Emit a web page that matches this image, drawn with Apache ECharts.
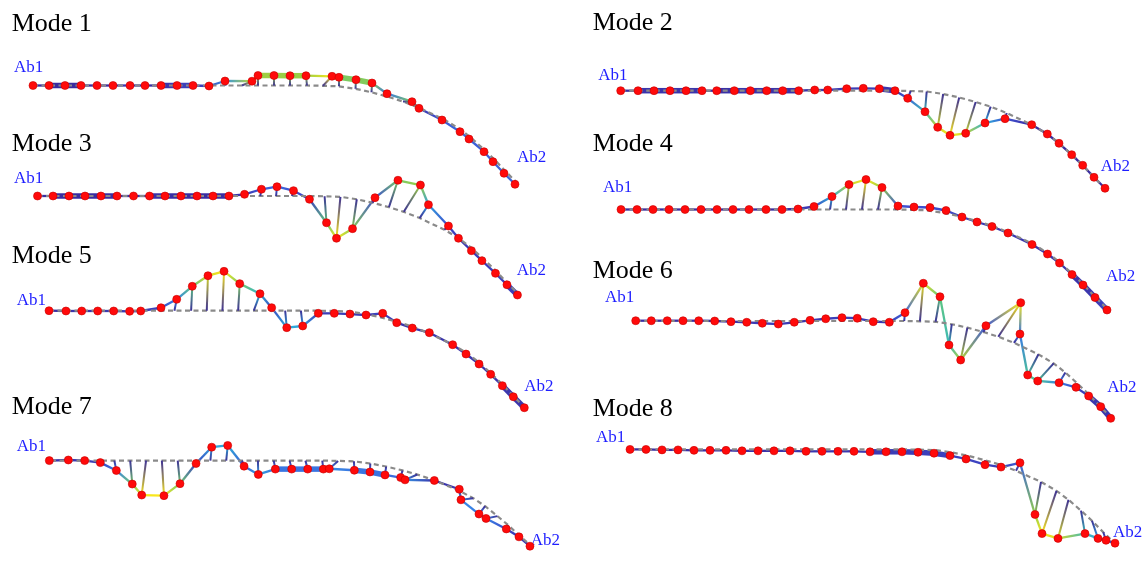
<!DOCTYPE html>
<html><head><meta charset="utf-8">
<script src="https://cdn.jsdelivr.net/npm/echarts@6/dist/echarts.min.js"></script>
<style>html,body{margin:0;padding:0;background:#fff}#c{width:1145px;height:569px}</style>
</head><body><div id="c"></div>
<script>
// Reference (undeformed) chain, shared by all panels: [u, v] (v positive = down)
const refChain = [[0,0],[16,0],[32,0],[48,0],[64,0],[80,0],[96,0],[112,0],[128,0],[145,0],[161,0],[177,0],[193,0],[209,0],[225,0],[241,0],[257,0],[274,0],
 [290,0.3],[306,0.8],[322.5,3.3],[338.5,6.8],[355,11.3],[370,16],[386,22.3],[411,34],[426.5,43.3],[438.5,52.6],[451,64],[462,74.6],[473.3,86.6],[484.3,97.6]];

// Displaced residue positions per mode
const mode1 = [[0,0],[16,0],[32,0],[48,0],[64,0],[80,0],[97,0],[112,0],[128,0],[144,0],[160,0],[176,0.5],[192,-4.5],[219,-4.3],[225,-10],[241,-10],[257,-9.8],[273,-9.8],[299,-9.2],[306,-8.2],[323,-5.8],[339,-2.5],[354,8.2],[379,16.2],[386,22.8],[409,34.5],[427,46.2],[436,53.5],[451,66.2],[460,76.2],[471,87.8],[482,98.8]];
const mode2 = [[0,0],[17.3,0],[33.3,0],[49.3,0],[65.3,0],[81.3,0],[96,0],[113.6,0],[129.6,0],[146,0],[162,0],[178,0],[194,-0.7],[207,-0.7],[226,-2],[242.6,-2.4],[258.6,-2],[274.3,0],[287,7.6],[304.3,21],[317,36.6],[329.3,44.6],[345,42.6],[364.3,32.3],[384.3,28],[411,34],[426.6,43.3],[438.3,52.6],[451,64],[462,74.6],[473.3,86.6],[484.3,97.6]];
const mode3 = [[0,0],[15.7,0],[31.8,0],[48,0],[64.1,0],[80.3,0],[97,0],[113.1,0],[128.8,0],[144.9,0],[161.1,0],[177.3,0],[193.4,0],[209.1,-1.7],[226.2,-6.8],[241.9,-9.4],[258.6,-5.4],[274.7,3.3],[291.9,27],[302,42.7],[318.2,33],[340.9,1.7],[364.1,-15.9],[386.8,-11.1],[394.9,8.8],[415.1,30.3],[425.2,42.7],[438.3,55.2],[448.9,65.3],[462.6,78.1],[474.2,89.6],[484.8,100]];
const mode4 = [[0,0],[16,0],[32,0],[48,0],[64,0],[80,0],[96,0],[112,0],[128,0],[145,0],[161,0],[177,-0.5],[193,-3],[211,-13],[228,-25],[245,-30],[261,-22],[277,-3.5],[293,-2.5],[309,-2],[325,1],[341,7.5],[356,12.5],[371,17],[387,23.5],[411,35],[426.5,44.5],[438.5,53.5],[451,65],[462,75.5],[474,88],[486,100.5]];
const mode5 = [[0,0],[17.3,0.3],[33.4,0.3],[49.7,0.3],[66,0.3],[82.3,0.6],[93.6,0.3],[114.3,-3],[130.3,-11.6],[146.2,-24.9],[162.2,-35.7],[178.6,-40.2],[194.6,-27.6],[215.3,-17.3],[227.2,-3.1],[242.6,17.3],[258.9,15.6],[274.8,2.7],[291.1,2.7],[307.1,3.4],[323.5,4.4],[340.5,2.7],[354.8,12.2],[370.7,17.7],[388.1,22.4],[411.9,34.7],[425.5,44.2],[438.8,54.4],[450.7,64.9],[462.6,76.5],[473.8,87.8],[485,99]];
const mode6 = [[0,-0.3],[15.9,-0.3],[32.2,-0.3],[48.3,-0.3],[64.3,-0.3],[80.6,0],[97.2,0.7],[113.3,1.3],[129.2,2.3],[145.5,3.1],[161.8,1.3],[177.9,-0.7],[193.9,-2.3],[210.5,-3.4],[226.1,-2.8],[242.4,0.7],[258.8,1.3],[274.8,-8.5],[293.5,-38.5],[310.5,-24.8],[319.7,24.5],[331.6,39.8],[357.4,4.8],[392.9,-18.7],[392.1,13.3],[400,55.1],[410.2,61.2],[432,63],[449.3,67.7],[462.2,76.5],[474.5,87.4],[484.7,99.3]];
const mode7 = [[-1.7,0],[17.5,-0.7],[34,0],[49.8,2.3],[66,11.4],[82.1,27],[91.6,39.7],[114.1,40.4],[130.3,26.6],[146.5,3.3],[162.3,-15.5],[178.5,-17.5],[195,6.4],[209.4,15.9],[226.6,9.8],[243.1,9.8],[259.3,9.8],[275.1,9.8],[281.1,9.4],[306.4,11.1],[322.2,13.1],[337.4,16.5],[353.2,19.5],[357.6,22.2],[387.2,22.9],[412.4,33],[414.1,45.2],[432.3,61.6],[439.4,66.7],[459.9,78.8],[472.7,87.9],[483.8,98.7]];
const mode8 = [[0,0],[16,0],[32,0.5],[48,0.5],[64,1],[80,1],[96,1],[112,1.5],[128,1.5],[144,1.5],[160,1.5],[176,2],[192,2],[208,2],[224,2],[240,2.5],[256,2.5],[272,2.5],[288,3],[304,4],[320,6.5],[336,10],[355,16],[371,18.5],[390,14],[405,68],[412,88],[428,93],[455,88],[468,93],[476,95],[485,98]];

// Segments drawn as thick tubes (segment k joins residue k and k+1)
const thick1 = [1,2,8,9,14,15,16,18,19,20];
const thick2 = [1,2,3,4,6,7,8,9,10,16];
const thick3 = [1,2,3,4,7,8,9,10,11,30];
const thick4 = [28,29,30];
const thick5 = [29,30];
const thick6 = [29,30];
const thick7 = [14,15,16,19,20];
const thick8 = [15,16,17,18,19];

const modeNames = ['Mode 1','Mode 2','Mode 3','Mode 4','Mode 5','Mode 6','Mode 7','Mode 8'];
const endLabels = ['Ab1','Ab2'];

// ---- layout (positions / sizes only) ----
const panels = [
 {ox:33,   oy:85.5,  s:1,    title:[11.7,34],   a1:[14,74],     a2:[517,164]},
 {ox:620.7,oy:90.7,  s:1,    title:[592.7,33.5],a1:[598.3,82.3],a2:[1100.7,172.7]},
 {ox:37.5, oy:196,   s:0.99, title:[11.7,154],  a1:[14,185],    a2:[516.7,276.7]},
 {ox:621,  oy:209.5, s:1,    title:[592.7,154], a1:[603,194],   a2:[1106,283.3]},
 {ox:49,   oy:310.7, s:0.98, title:[11.7,266],  a1:[16.7,307.3],a2:[524.3,392.7]},
 {ox:635.7,oy:321,   s:0.98, title:[592.7,281], a1:[605,304.3], a2:[1107.3,394.3]},
 {ox:51,   oy:468,   s:0.99, title:[11.7,417.5],a1:[16.7,452.7],a2:[530.7,546.7]},
 {ox:630,  oy:452,   s:1,    title:[592.7,419], a1:[596,444],   a2:[1113,539]}
];
const modes = [mode1,mode2,mode3,mode4,mode5,mode6,mode7,mode8];
const thicks = [thick1,thick2,thick3,thick4,thick5,thick6,thick7,thick8];

const CMAP = [[0,[58,44,160]],[0.15,[62,82,212]],[0.3,[56,135,232]],[0.45,[44,178,214]],[0.6,[84,196,140]],[0.75,[152,206,70]],[0.9,[218,216,40]],[1,[250,232,28]]];
const BASE = 'rgb(60,48,150)';
function cmap(t){
  t = Math.max(0, Math.min(1, t));
  for (let k=1;k<CMAP.length;k++){
    if (t <= CMAP[k][0]){
      const a=CMAP[k-1], b=CMAP[k], f=(t-a[0])/(b[0]-a[0]);
      const c=a[1].map((v,j)=>Math.round(v+(b[1][j]-v)*f));
      return 'rgb('+c.join(',')+')';
    }
  }
  return 'rgb(250,232,28)';
}

const XMIN=-25, XMAX=510, YMIN=-60, YMAX=125;
const grids=[], xAxes=[], yAxes=[], series=[], graphics=[];
const TFONT = '"Liberation Serif","Times New Roman",serif';

panels.forEach((p,k)=>{
  grids.push({left:p.ox+XMIN*p.s, top:p.oy+YMIN*p.s, width:(XMAX-XMIN)*p.s, height:(YMAX-YMIN)*p.s});
  xAxes.push({gridIndex:k, type:'value', min:XMIN, max:XMAX, show:false});
  yAxes.push({gridIndex:k, type:'value', min:YMIN, max:YMAX, inverse:true, show:false});
  const pts = modes[k];
  const mags = pts.map((q,i)=>Math.hypot(q[0]-refChain[i][0], q[1]-refChain[i][1]));
  const mx = Math.max.apply(null, mags);
  const cols = mags.map(m=>cmap(m/mx));
  const th = thicks[k];
  const segData = [];
  for (let i=0;i<pts.length-1;i++) segData.push([pts[i][0],pts[i][1],pts[i+1][0],pts[i+1][1]]);
  series.push({
    type:'custom', xAxisIndex:k, yAxisIndex:k, silent:true, z:2,
    encode:{x:[0,2], y:[1,3]},
    data:segData,
    renderItem:function(params, api){
      const i=params.dataIndex;
      const a=api.coord([api.value(0),api.value(1)]);
      const b=api.coord([api.value(2),api.value(3)]);
      const w = th.indexOf(i)>=0 ? 5.5 : 2.3;
      const d = Math.hypot(b[0]-a[0], b[1]-a[1]);
      const stroke = d<0.5 ? cols[i] : new echarts.graphic.LinearGradient(a[0],a[1],b[0],b[1],[{offset:0,color:cols[i]},{offset:1,color:cols[i+1]}],true);
      return {type:'line', shape:{x1:a[0],y1:a[1],x2:b[0],y2:b[1]}, style:{stroke:stroke, lineWidth:w, lineCap:'butt'}};
    }
  });
  // reference dashed chain
  series.push({
    type:'line', xAxisIndex:k, yAxisIndex:k, silent:true, z:3,
    data:refChain, showSymbol:false, symbol:'none', smooth:false,
    lineStyle:{color:'#8a8a8a', width:2.2, type:[5,3.5]}
  });
  // displacement vectors
  const vecData = pts.map((q,i)=>[refChain[i][0],refChain[i][1],q[0],q[1]]);
  series.push({
    type:'custom', xAxisIndex:k, yAxisIndex:k, silent:true, z:4,
    encode:{x:[0,2], y:[1,3]},
    data:vecData,
    renderItem:function(params, api){
      const i=params.dataIndex;
      if (mags[i] < 1.5) return null;
      const a=api.coord([api.value(0),api.value(1)]);
      const b=api.coord([api.value(2),api.value(3)]);
      return {type:'line', shape:{x1:a[0],y1:a[1],x2:b[0],y2:b[1]},
        style:{stroke:new echarts.graphic.LinearGradient(a[0],a[1],b[0],b[1],[{offset:0,color:BASE},{offset:1,color:cols[i]}],true), lineWidth:2}};
    }
  });
  // residues
  series.push({
    type:'scatter', xAxisIndex:k, yAxisIndex:k, silent:true, z:5,
    data:pts, symbol:'circle', symbolSize:8,
    itemStyle:{color:'#ff0a0a', borderColor:'#c80000', borderWidth:0.6, opacity:1}
  });
  graphics.push({type:'text', left:p.title[0], top:p.title[1]-26*0.89, silent:true,
    style:{text:modeNames[k], font:'26px '+TFONT, fill:'#000'}});
  graphics.push({type:'text', left:p.a1[0], top:p.a1[1]-17*0.89, silent:true,
    style:{text:endLabels[0], font:'17px '+TFONT, fill:'#1f1fff'}});
  graphics.push({type:'text', left:p.a2[0], top:p.a2[1]-17*0.89, silent:true,
    style:{text:endLabels[1], font:'17px '+TFONT, fill:'#1f1fff'}});
});

const chart = echarts.init(document.getElementById('c'), null, {renderer:'canvas'});
chart.setOption({
  animation:false,
  backgroundColor:'#ffffff',
  grid:grids, xAxis:xAxes, yAxis:yAxes, series:series, graphic:graphics
});
</script></body></html>
